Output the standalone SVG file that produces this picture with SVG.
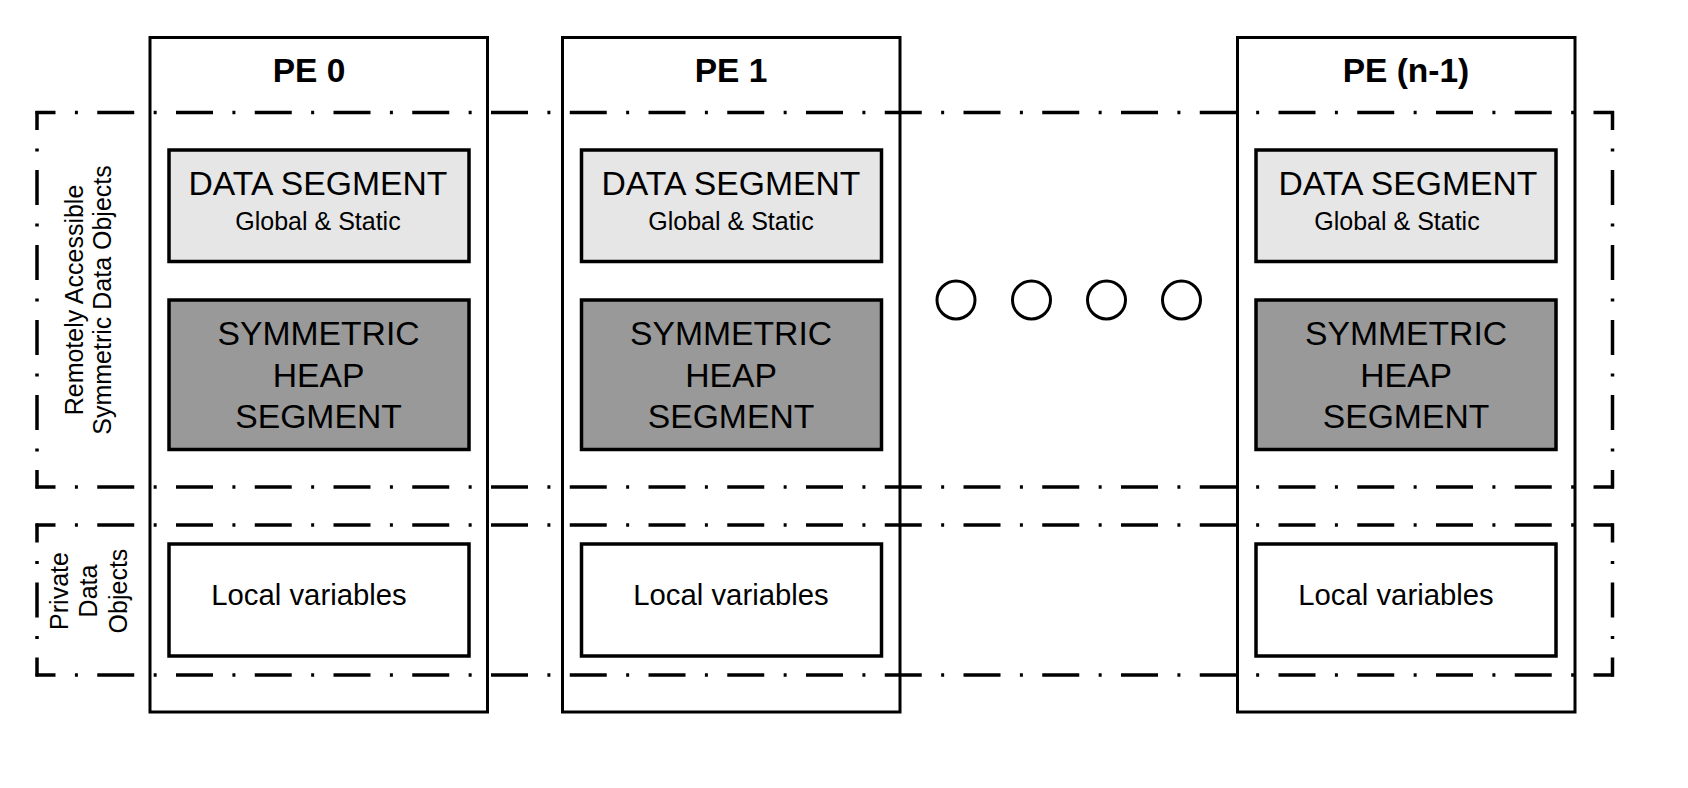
<svg xmlns="http://www.w3.org/2000/svg" width="1688" height="788" viewBox="0 0 1688 788">
<style>
  text { font-family: "Liberation Sans", Arial, sans-serif; fill: #000; }
  .pe { fill: #fff; stroke: #000; stroke-width: 3; }
  .data { fill: #e6e6e6; stroke: #000; stroke-width: 3.5; }
  .heap { fill: #999999; stroke: #000; stroke-width: 3.5; }
  .local { fill: #fff; stroke: #000; stroke-width: 3.5; }
  .title { font-size: 33.5px; font-weight: bold; text-anchor: middle; }
  .big { font-size: 33.7px; text-anchor: middle; }
  .small { font-size: 25px; text-anchor: middle; }
  .lv { font-size: 29.3px; text-anchor: middle; }
  .side { font-size: 25px; text-anchor: middle; }
  .h { fill: none; stroke: #000; stroke-width: 3.5; stroke-dasharray: 37 19.4 3 19.35; stroke-dashoffset: 17; }
  .v { fill: none; stroke: #000; stroke-width: 3.5; stroke-dasharray: 35.2 18.5 2.8 18.5; stroke-dashoffset: 16.1; }
  .dot { fill: #fff; stroke: #000; stroke-width: 3; }
</style>

<g id="pe0">
  <rect class="pe" x="150" y="37.5" width="337.5" height="674.5"/>
  <text class="title" x="309" y="82">PE 0</text>
  <rect class="data" x="169" y="150" width="300" height="111.5"/>
  <text class="big" x="318" y="194.5">DATA SEGMENT</text>
  <text class="small" x="318" y="229.5">Global &amp; Static</text>
  <rect class="heap" x="169" y="300" width="300" height="149.5"/>
  <text class="big" x="318.5" y="345">SYMMETRIC</text>
  <text class="big" x="318.5" y="386.5">HEAP</text>
  <text class="big" x="318.5" y="427.5">SEGMENT</text>
  <rect class="local" x="169" y="544" width="300" height="112"/>
  <text class="lv" x="309" y="605">Local variables</text>
</g>

<g id="pe1">
  <rect class="pe" x="562.5" y="37.5" width="337.5" height="674.5"/>
  <text class="title" x="731" y="82">PE 1</text>
  <rect class="data" x="581.5" y="150" width="300" height="111.5"/>
  <text class="big" x="731" y="194.5">DATA SEGMENT</text>
  <text class="small" x="731" y="229.5">Global &amp; Static</text>
  <rect class="heap" x="581.5" y="300" width="300" height="149.5"/>
  <text class="big" x="731" y="345">SYMMETRIC</text>
  <text class="big" x="731" y="386.5">HEAP</text>
  <text class="big" x="731" y="427.5">SEGMENT</text>
  <rect class="local" x="581.5" y="544" width="300" height="112"/>
  <text class="lv" x="731" y="605">Local variables</text>
</g>

<g id="pe-n-1">
  <rect class="pe" x="1237.5" y="37.5" width="337.5" height="674.5"/>
  <text class="title" x="1406" y="82">PE (n-1)</text>
  <rect class="data" x="1256" y="150" width="300" height="111.5"/>
  <text class="big" x="1408" y="194.5">DATA SEGMENT</text>
  <text class="small" x="1397" y="229.5">Global &amp; Static</text>
  <rect class="heap" x="1256" y="300" width="300" height="149.5"/>
  <text class="big" x="1406" y="345">SYMMETRIC</text>
  <text class="big" x="1406" y="386.5">HEAP</text>
  <text class="big" x="1406" y="427.5">SEGMENT</text>
  <rect class="local" x="1256" y="544" width="300" height="112"/>
  <text class="lv" x="1396" y="605">Local variables</text>
</g>

<g id="ellipsis">
  <circle class="dot" cx="956" cy="300" r="19"/>
  <circle class="dot" cx="1031.5" cy="300" r="19"/>
  <circle class="dot" cx="1106.5" cy="300" r="19"/>
  <circle class="dot" cx="1181.5" cy="300" r="19"/>
</g>

<g id="remote-region">
  <path class="h" d="M35.5 112.5 H1614"/>
  <path class="h" d="M35.5 487 H1614"/>
  <path class="v" d="M37 111 V488.5"/>
  <path class="v" d="M1612.5 111 V488.5"/>
  <text class="side" transform="rotate(-90 82.5 300)" x="82.5" y="300">Remotely Accessible</text>
  <text class="side" transform="rotate(-90 111 300)" x="111" y="300">Symmetric Data Objects</text>
</g>

<g id="private-region">
  <path class="h" d="M35.5 525 H1614"/>
  <path class="h" d="M35.5 675 H1614"/>
  <path class="v" d="M37 523.5 V676.5"/>
  <path class="v" d="M1612.5 523.5 V676.5"/>
  <text class="side" transform="rotate(-90 67.5 591)" x="67.5" y="591">Private</text>
  <text class="side" transform="rotate(-90 97 591)" x="97" y="591">Data</text>
  <text class="side" transform="rotate(-90 126.5 591)" x="126.5" y="591">Objects</text>
</g>

<g id="connectors"/>
</svg>
